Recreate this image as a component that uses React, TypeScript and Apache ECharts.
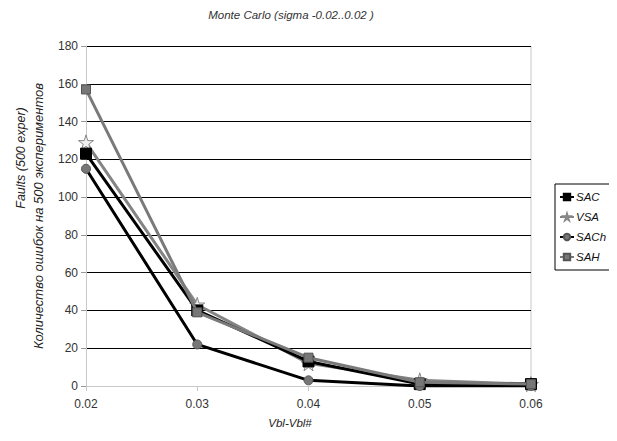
import React, { useEffect, useRef } from "react";
import * as echarts from "echarts";

const categories = ["0.02", "0.03", "0.04", "0.05", "0.06"];
const sacValues = [123, 40, 13, 1, 1];
const vsaValues = [129, 43, 12, 3, 1];
const sachValues = [115, 22, 3, 0, 0];
const sahValues = [157, 39, 15, 2, 1];

const FONT = "Liberation Sans, Arial, sans-serif";

export default function App() {
  const ref = useRef<HTMLDivElement>(null);
  useEffect(() => {
    if (!ref.current) return;
    const chart = echarts.init(ref.current, null, { renderer: "svg" });
    const mk = (name: string, data: number[], color: string, symbol: string, size: number, width: number, fill: string, border: string, z = 2) => ({
      name,
      type: "line",
      data,
      z,
      symbol,
      symbolSize: size,
      lineStyle: { color, width },
      itemStyle: { color: fill, borderColor: border, borderWidth: 1 },
      emphasis: { disabled: true },
    });
    chart.setOption({
      animation: false,
      textStyle: { fontFamily: FONT },
      grid: { left: 86, right: 86, top: 46, bottom: 55, containLabel: false },
      legend: {
        orient: "vertical",
        left: 555,
        top: 184,
        itemWidth: 14,
        itemHeight: 8,
        itemGap: 8,
        padding: [7, 5, 7, 4],
        borderColor: "#000",
        borderWidth: 1,
        textStyle: { fontSize: 11.5, fontStyle: "italic", color: "#111", fontFamily: FONT, padding: [0, 0, 0, -3] },
        data: ["SAC", "VSA", "SACh", "SAH"],
      },
      xAxis: {
        type: "category",
        data: categories,
        boundaryGap: false,
        axisLine: { lineStyle: { color: "#c8c8c8", width: 1 } },
        axisTick: { show: true, length: 5, lineStyle: { color: "#c8c8c8" } },
        axisLabel: { fontSize: 12, color: "#333", margin: 12, fontFamily: FONT },
        splitLine: { show: false },
      },
      yAxis: {
        type: "value",
        min: 0,
        max: 180,
        interval: 20,
        axisLine: { show: true, lineStyle: { color: "#c8c8c8", width: 1 } },
        axisTick: { show: true, length: 5, lineStyle: { color: "#999" } },
        axisLabel: { fontSize: 12, color: "#333", margin: 8, fontFamily: FONT },
        splitLine: { show: true, lineStyle: { color: "#000", width: 1 } },
      },
      graphic: [
        {
          type: "line",
          shape: { x1: 531, y1: 46, x2: 531, y2: 386 },
          style: { stroke: "#c8c8c8", lineWidth: 1 },
          z: 0,
        },
        {
          type: "text",
          x: 291,
          y: 15,
          style: { text: "Monte Carlo (sigma -0.02..0.02 )", fontSize: 11.5, fontStyle: "italic", fill: "#333", fontFamily: FONT, textAlign: "center", textVerticalAlign: "middle" },
        },
        {
          type: "text",
          x: 21,
          y: 158,
          rotation: Math.PI / 2,
          style: { text: "Faults (500 exper)", fontSize: 12.5, fontStyle: "italic", fill: "#222", fontFamily: FONT, textAlign: "center", textVerticalAlign: "middle" },
        },
        {
          type: "text",
          x: 38,
          y: 216,
          rotation: Math.PI / 2,
          style: { text: "Количество ошибок на 500 экспериментов", fontSize: 13, fontStyle: "italic", fill: "#222", fontFamily: FONT, textAlign: "center", textVerticalAlign: "middle" },
        },
        {
          type: "text",
          x: 290,
          y: 423,
          style: { text: "Vbl-Vbl#", fontSize: 11.5, fontStyle: "italic", fill: "#222", fontFamily: FONT, textAlign: "center", textVerticalAlign: "middle" },
        },
      ],
      series: [
        mk("SAC", sacValues, "#000", "rect", 11, 3, "#000", "#000", 3),
        mk("VSA", vsaValues, "#858585", "path://M50 0 L61 35 L98 35 L68 57 L79 91 L50 70 L21 91 L32 57 L2 35 L39 35 Z", 15, 3, "#eee", "#888", 2),
        mk("SACh", sachValues, "#000", "circle", 9, 3, "#777", "#555", 4),
        mk("SAH", sahValues, "#7a7a7a", "rect", 9, 3, "#777", "#555", 5),
      ],
    });
    return () => chart.dispose();
  }, []);
  return <div ref={ref} style={{ width: 617, height: 441, margin: -8 }} />;
}
